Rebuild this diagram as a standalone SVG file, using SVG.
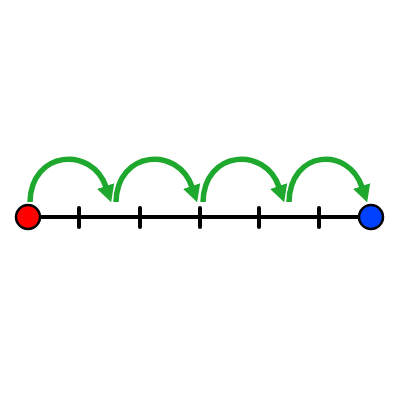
<svg xmlns="http://www.w3.org/2000/svg" width="400" height="400" viewBox="0 0 400 400">
<defs>
<style>
.arc{fill:none;stroke:#1ea82e;stroke-width:5.5;marker-end:url(#ah)}
.tick{stroke:#000;stroke-width:4;stroke-linecap:round}
</style>
<marker id="ah" markerWidth="20" markerHeight="20" refX="1" refY="10" orient="auto" markerUnits="userSpaceOnUse">
<path d="M0,1 L17,10 L0,19 Z" fill="#1ea82e"/>
</marker>
</defs>
<g id="axis">
<line x1="28" y1="217" x2="371" y2="217" stroke="#000" stroke-width="4"/>
<line class="tick" x1="79" y1="208" x2="79" y2="227"/>
<line class="tick" x1="140" y1="208" x2="140" y2="227"/>
<line class="tick" x1="200" y1="208" x2="200" y2="227"/>
<line class="tick" x1="259" y1="208" x2="259" y2="227"/>
<line class="tick" x1="319" y1="208" x2="319" y2="227"/>
</g>
<g id="connectors">
<path class="arc" d="M30,202 C31,150 92,146 106,187"/>
<path class="arc" d="M116,202 C117,150 178,146 192,187"/>
<path class="arc" d="M203,202 C204,150 265,146 279,187"/>
<path class="arc" d="M289,202 C290,150 348,146 362,187"/>
</g>
<g id="start"><circle cx="28" cy="217" r="12" fill="#f00" stroke="#000" stroke-width="2.5"/></g>
<g id="end"><circle cx="371" cy="217" r="12" fill="#0040ff" stroke="#000" stroke-width="2.5"/></g>
</svg>
